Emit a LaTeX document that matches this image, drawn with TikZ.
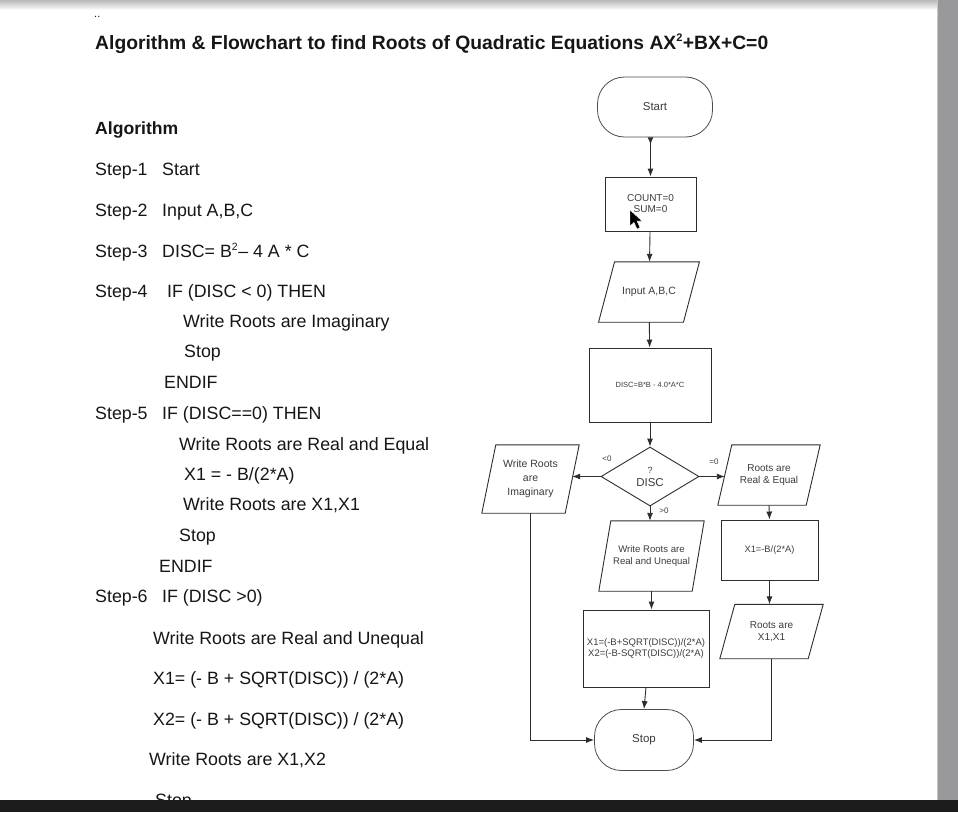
\documentclass[tikz,border=0pt]{standalone}
\usepackage{fontspec}
\setmainfont{Liberation Sans}
\usetikzlibrary{arrows.meta,positioning,shapes.geometric}
\definecolor{fcline}{RGB}{45,45,45}
\definecolor{fctext}{RGB}{60,60,60}
\definecolor{algtext}{RGB}{22,22,22}
\definecolor{bargray}{RGB}{153,152,155}
\definecolor{baredge}{RGB}{200,200,200}
\definecolor{bardark}{RGB}{28,28,28}
\tikzset{
  fterm/.style={draw=fcline!85, rounded corners=27pt, minimum width=115pt, minimum height=60pt,
    font=\fontsize{11.5}{13}\selectfont, text=fctext, line width=0.8pt},
  fbox/.style={draw=fcline, rectangle, align=center, text=fctext, inner sep=1pt, line width=0.9pt},
  fio/.style={rectangle, align=center, text=fctext, inner sep=1pt},
  fdec/.style={draw=fcline, diamond, aspect=1.66, inner sep=0pt, align=center, text=fctext,
    minimum width=98pt, minimum height=59pt, line width=0.9pt},
  farr/.style={-{Latex[length=8pt,width=6pt]}, line width=0.9pt, fcline},
  fline/.style={line width=0.9pt, fcline},
  flabel/.style={font=\fontsize{8}{9}\selectfont, text=fctext, inner sep=0pt},
  algline/.style={anchor=base west, inner sep=0pt, font=\fontsize{17.8}{20}\selectfont, text=algtext},
  algbold/.style={anchor=base west, inner sep=0pt, text=algtext}
}

\begin{document}
\begin{tikzpicture}[x=1pt,y=-1pt]
  \useasboundingbox (0,0) rectangle (958,812);
  \fill[white] (0,0) rectangle (958,812);
  \shade[top color=gray!55, bottom color=white] (0,0) rectangle (937,10);
  \node[algbold, font=\fontsize{11}{11}\selectfont] (dots) at (94,17) {..};

  % title and algorithm
  \node[algbold, font=\bfseries\fontsize{19.3}{22}\selectfont] (title) at (95,49.3)
    {Algorithm \& Flowchart to find Roots of Quadratic Equations AX\textsuperscript{\fontsize{11}{11}\selectfont 2}+BX+C=0};
  \node[algbold, font=\bfseries\fontsize{17.6}{20}\selectfont] (algo) at (95,134.3) {Algorithm};
  \node[algline] (s1) at (95,175) {Step-1};
  \node[algline] (s1t) at (162,175) {Start};
  \node[algline] (s2) at (95,216) {Step-2};
  \node[algline] (s2t) at (162,216) {Input A,B,C};
  \node[algline] (s3) at (95,257) {Step-3};
  \node[algline] (s3t) at (162,257) {DISC= B\textsuperscript{\fontsize{10.5}{10}\selectfont 2}– 4 A * C};
  \node[algline] (s4) at (95,297) {Step-4};
  \node[algline] (s4t) at (167,297) {IF (DISC < 0) THEN};
  \node[algline] (s4a) at (183,327.7) {Write Roots are Imaginary};
  \node[algline] (s4b) at (184,357.7) {Stop};
  \node[algline] (s4c) at (164,388) {ENDIF};
  \node[algline] (s5) at (95,419) {Step-5};
  \node[algline] (s5t) at (162,419) {IF (DISC==0) THEN};
  \node[algline] (s5a) at (179,450) {Write Roots are Real and Equal};
  \node[algline] (s5b) at (184,480.7) {X1 = - B/(2*A)};
  \node[algline] (s5c) at (183,510.7) {Write Roots are X1,X1};
  \node[algline] (s5d) at (179,541) {Stop};
  \node[algline] (s5e) at (159,572) {ENDIF};
  \node[algline] (s6) at (95,602) {Step-6};
  \node[algline] (s6t) at (162,602) {IF (DISC >0)};
  \node[algline] (s6a) at (153,644.3) {Write Roots are Real and Unequal};
  \node[algline] (s6b) at (153,684.3) {X1= (- B + SQRT(DISC)) / (2*A)};
  \node[algline] (s6c) at (153,725) {X2= (- B + SQRT(DISC)) / (2*A)};
  \node[algline] (s6d) at (149,765.7) {Write Roots are X1,X2};
  \node[algline] (s6e) at (155,806.7) {Stop};

  % flowchart
  \node[fterm] (start) at (655,107) {Start};
  \node[fbox, minimum width=91pt, minimum height=54pt, font=\fontsize{10}{11}\selectfont] (count) at (650.5,204) {COUNT=0\\SUM=0};
  \node[fio, minimum width=84.5pt, minimum height=60pt, font=\fontsize{10.5}{12}\selectfont] (input) at (649,292) {Input A,B,C};
  \node[fbox, minimum width=122pt, minimum height=74pt, font=\fontsize{7.5}{9}\selectfont] (disc) at (650,385) {DISC=B*B - 4.0*A*C};
  \node[fdec, font=\fontsize{11.5}{13}\selectfont] (dec) at (650,476.5) {{\fontsize{9}{10}\selectfont ?}\\DISC};
  \node[fio, minimum width=83pt, minimum height=68pt, font=\fontsize{10.5}{14}\selectfont] (imag) at (530.5,479) {Write Roots\\are\\Imaginary};
  \node[fio, minimum width=88pt, minimum height=60pt, font=\fontsize{10}{12.5}\selectfont] (realeq) at (769,475) {Roots are\\Real \& Equal};
  \node[fio, minimum width=93pt, minimum height=70pt, font=\fontsize{9.6}{12}\selectfont] (uneq) at (651.5,556) {Write Roots are\\Real and Unequal};
  \node[fbox, minimum width=97pt, minimum height=60pt, font=\fontsize{9.3}{11}\selectfont] (x1box) at (769.5,550) {X1=-B/(2*A)};
  \node[fio, minimum width=88pt, minimum height=54pt, font=\fontsize{10}{12}\selectfont] (x1x1) at (771.5,631.5) {Roots are\\X1,X1};
  \node[fbox, minimum width=126pt, minimum height=77pt, font=\fontsize{9.5}{11}\selectfont] (x12box) at (646,648.5) {X1=(-B+SQRT(DISC))/(2*A)\\X2=(-B-SQRT(DISC))/(2*A)};
  \node[fterm, minimum width=99pt, minimum height=61pt] (stop) at (644,740) {Stop};

  % slanted outlines of the input/output boxes
  \foreach \n/\s in {input/8,imag/7,realeq/7,uneq/6,x1x1/7.5}
    \draw[fline] ([xshift=\s pt]\n.north west) -- ([xshift=\s pt]\n.north east)
      -- ([xshift=-\s pt]\n.south east) -- ([xshift=-\s pt]\n.south west) -- cycle;

  \draw[farr, {Latex[length=7pt,width=6pt,reversed]}-{Latex[length=8pt,width=6pt]}] (count.north |- start.south) -- (count.north);
  \draw[farr] (count) -- (input);
  \draw[farr] (input) -- (disc);
  \draw[farr] (disc) -- (dec);
  \draw[farr] (dec.west) -- (dec.west -| imag.east);
  \draw[farr] (dec.east) -- (dec.east -| realeq.west);
  \draw[farr] (dec.south) -- (dec.south |- uneq.north);
  \draw[farr] (realeq.south) -- (x1box.north);
  \draw[farr] (x1box.south) -- (x1box.south |- x1x1.north);
  \draw[farr] (uneq.south) -- (uneq.south |- x12box.north);
  \draw[farr] (x12box.south) -- (stop.north);
  \draw[farr] (imag.south) |- (stop.west);
  \draw[farr] (x1x1.south) |- (stop.east);
  \node[flabel] (ltneg) at (607,459) {<0};
  \node[flabel] (lteq) at (714,462) {=0};
  \node[flabel] (ltpos) at (664,511) {>0};

  % mouse pointer
  \fill[black, draw=white, line width=0.4pt] (630,210) -- (630,226) -- (634,222.5) -- (637,229) -- (640,227.5)
    -- (637,221) -- (642,221) -- cycle;

  % screen frame
  \fill[bargray] (937,0) rectangle (958,800);
  \draw[baredge, line width=1pt] (937.5,0) -- (937.5,800);
  \fill[bardark] (0,800) rectangle (958,812);
\end{tikzpicture}
\end{document}
